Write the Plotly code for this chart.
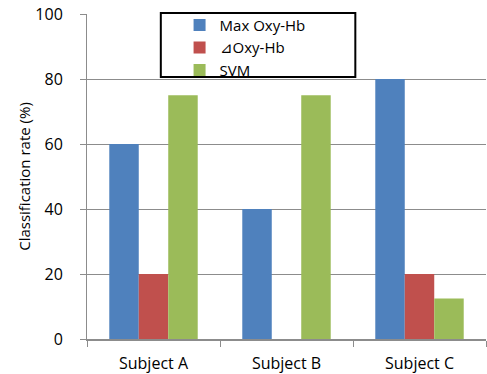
import plotly.graph_objects as go

subjects = ["Subject A", "Subject B", "Subject C"]
max_oxy_hb = [60, 40, 80]
delta_oxy_hb = [20, 0, 20]
svm = [75, 75, 12.5]

series_names = ["Max Oxy-Hb", "⊿Oxy-Hb", "SVM"]
series_colors = ["#4F81BD", "#C0504D", "#9BBB59"]

FONT = "Open Sans, Liberation Sans, sans-serif"
AXIS_GRAY = "#8C8C8C"

fig = go.Figure()
for name, vals, color in zip(series_names, [max_oxy_hb, delta_oxy_hb, svm], series_colors):
    fig.add_trace(go.Bar(x=subjects, y=vals, name=name, marker_color=color,
                         marker_line_width=0))

fig.update_layout(
    width=487, height=374,
    margin=dict(l=87, r=1, t=14, b=35),
    paper_bgcolor="white", plot_bgcolor="white",
    font=dict(family=FONT, size=16, color="black"),
    barmode="group", bargap=0.335, bargroupgap=0,
    showlegend=True,
    legend=dict(x=0.232, y=1.016, xanchor="left", yanchor="top",
                bgcolor="rgba(0,0,0,0)", borderwidth=0,
                font=dict(family=FONT, size=15), tracegroupgap=0,
                itemsizing="constant"),
    # framed box behind the legend entries
    shapes=[dict(type="rect", xref="paper", yref="paper",
                 x0=0.185, x1=0.6725, y0=0.806, y1=1.003,
                 line=dict(color="black", width=2), fillcolor="white",
                 layer="above")],
)

fig.update_xaxes(
    showline=True, linecolor=AXIS_GRAY, linewidth=1.5,
    ticks="outside", tickson="boundaries", ticklen=6, tickcolor=AXIS_GRAY,
    tickfont=dict(size=16), showgrid=False, ticklabelstandoff=9,
)
fig.update_yaxes(
    range=[0, 100], dtick=20,
    showline=True, linecolor=AXIS_GRAY, linewidth=1,
    ticks="outside", ticklen=6, tickcolor=AXIS_GRAY,
    showgrid=True, gridcolor=AXIS_GRAY, gridwidth=1,
    zeroline=False, tickfont=dict(size=16),
    ticklabelstandoff=14,
    title=dict(text="Classification rate (%)", font=dict(size=15), standoff=1),
)

fig.write_html("out.html")
